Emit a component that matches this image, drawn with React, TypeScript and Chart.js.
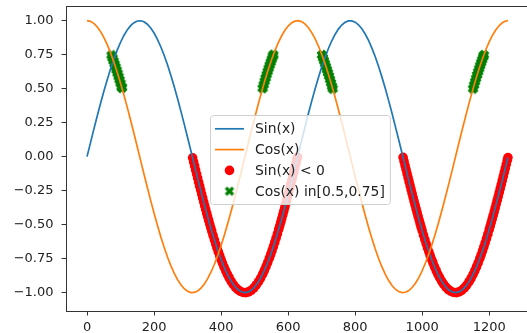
import React, { useEffect, useRef } from 'react';
import { Chart, registerables } from 'chart.js';

Chart.register(...registerables);

// x grid of the two curves
const xs = [
  0, 10, 20, 30, 40, 50, 60, 70, 80, 90,
  100, 110, 120, 130, 140, 150, 160, 170, 180, 190,
  200, 210, 220, 230, 240, 250, 260, 270, 280, 290,
  300, 310, 320, 330, 340, 350, 360, 370, 380, 390,
  400, 410, 420, 430, 440, 450, 460, 470, 480, 490,
  500, 510, 520, 530, 540, 550, 560, 570, 580, 590,
  600, 610, 620, 630, 640, 650, 660, 670, 680, 690,
  700, 710, 720, 730, 740, 750, 760, 770, 780, 790,
  800, 810, 820, 830, 840, 850, 860, 870, 880, 890,
  900, 910, 920, 930, 940, 950, 960, 970, 980, 990,
  1000, 1010, 1020, 1030, 1040, 1050, 1060, 1070, 1080, 1090,
  1100, 1110, 1120, 1130, 1140, 1150, 1160, 1170, 1180, 1190,
  1200, 1210, 1220, 1230, 1240, 1250, 1256,
];

const sinValues = [
  0, 0.0998, 0.1987, 0.2955, 0.3894, 0.4794, 0.5646, 0.6442, 0.7174, 0.7833,
  0.8415, 0.8912, 0.932, 0.9636, 0.9854, 0.9975, 0.9996, 0.9917, 0.9738, 0.9463,
  0.9093, 0.8632, 0.8085, 0.7457, 0.6755, 0.5985, 0.5155, 0.4274, 0.335, 0.2392,
  0.1411, 0.0416, -0.0584, -0.1577, -0.2555, -0.3508, -0.4425, -0.5298, -0.6119, -0.6878,
  -0.7568, -0.8183, -0.8716, -0.9162, -0.9516, -0.9775, -0.9937, -0.9999, -0.9962, -0.9825,
  -0.9589, -0.9258, -0.8835, -0.8323, -0.7728, -0.7055, -0.6313, -0.5507, -0.4646, -0.3739,
  -0.2794, -0.1822, -0.0831, 0.0168, 0.1165, 0.2151, 0.3115, 0.4048, 0.4941, 0.5784,
  0.657, 0.729, 0.7937, 0.8504, 0.8987, 0.938, 0.9679, 0.9882, 0.9985, 0.9989,
  0.9894, 0.9699, 0.9407, 0.9022, 0.8546, 0.7985, 0.7344, 0.663, 0.5849, 0.501,
  0.4121, 0.3191, 0.2229, 0.1245, 0.0248, -0.0752, -0.1743, -0.2718, -0.3665, -0.4575,
  -0.544, -0.6251, -0.6999, -0.7677, -0.8278, -0.8797, -0.9228, -0.9566, -0.9809, -0.9954,
  -1.0, -0.9946, -0.9792, -0.9541, -0.9193, -0.8755, -0.8228, -0.762, -0.6935, -0.6181,
  -0.5366, -0.4496, -0.3582, -0.2632, -0.1656, -0.0663, -0.0064,
];

const cosValues = [
  1, 0.995, 0.9801, 0.9553, 0.9211, 0.8776, 0.8253, 0.7648, 0.6967, 0.6216,
  0.5403, 0.4536, 0.3624, 0.2675, 0.17, 0.0707, -0.0292, -0.1288, -0.2272, -0.3233,
  -0.4161, -0.5048, -0.5885, -0.6663, -0.7374, -0.8011, -0.8569, -0.9041, -0.9422, -0.971,
  -0.99, -0.9991, -0.9983, -0.9875, -0.9668, -0.9365, -0.8968, -0.8481, -0.791, -0.7259,
  -0.6536, -0.5748, -0.4903, -0.4008, -0.3073, -0.2108, -0.1122, -0.0124, 0.0875, 0.1865,
  0.2837, 0.378, 0.4685, 0.5544, 0.6347, 0.7087, 0.7756, 0.8347, 0.8855, 0.9275,
  0.9602, 0.9833, 0.9965, 0.9999, 0.9932, 0.9766, 0.9502, 0.9144, 0.8694, 0.8157,
  0.7539, 0.6846, 0.6084, 0.5261, 0.4385, 0.3466, 0.2513, 0.1534, 0.054, -0.046,
  -0.1455, -0.2435, -0.3392, -0.4314, -0.5193, -0.602, -0.6787, -0.7486, -0.8111, -0.8654,
  -0.9111, -0.9477, -0.9748, -0.9922, -0.9997, -0.9972, -0.9847, -0.9624, -0.9304, -0.8892,
  -0.8391, -0.7806, -0.7143, -0.6408, -0.561, -0.4755, -0.3853, -0.2913, -0.1943, -0.0954,
  0.0044, 0.1042, 0.203, 0.2995, 0.3935, 0.4833, 0.5683, 0.6477, 0.7206, 0.7863,
  0.8439, 0.8931, 0.9333, 0.9644, 0.9861, 0.9978, 1.0,
];

// points where Sin(x) < 0
const redX = [
  315, 318, 321, 324, 327, 330, 333, 336, 339, 342, 345, 348, 351, 354, 357, 360, 363, 366, 369, 372,
  376, 380, 384, 388, 392, 396, 400, 404, 409, 414, 419, 424, 430, 436, 443, 450,
  458, 466, 474, 482, 490, 498, 505, 512, 518, 524, 529, 534, 539, 544,
  548, 552, 556, 560, 564, 568, 572, 575, 578, 581, 584, 587, 590, 593, 596, 599,
  602, 605, 608, 611, 614, 617, 620, 623, 626, 628,
  943, 946, 949, 952, 955, 958, 961, 964, 967, 970, 973, 976, 979, 982, 985, 988, 991, 994, 997, 1000,
  1004, 1008, 1012, 1016, 1020, 1024, 1028, 1032, 1037, 1042, 1047, 1052, 1058, 1064, 1071, 1078,
  1086, 1094, 1102, 1110, 1118, 1126, 1133, 1140, 1146, 1152, 1157, 1162, 1167, 1172,
  1176, 1180, 1184, 1188, 1192, 1196, 1200, 1203, 1206, 1209, 1212, 1215, 1218, 1221, 1224, 1227,
  1230, 1233, 1236, 1239, 1242, 1245, 1248, 1251, 1254, 1256,
];

const redY = [
  -0.0084, -0.0384, -0.0684, -0.0983, -0.1281, -0.1577, -0.1873, -0.2167, -0.2459, -0.2748,
  -0.3035, -0.332, -0.3601, -0.3879, -0.4153, -0.4425, -0.4692, -0.4955, -0.5213, -0.5467,
  -0.5797, -0.6119, -0.643, -0.6731, -0.7022, -0.7301, -0.7568, -0.7823, -0.8125, -0.8406,
  -0.8666, -0.8905, -0.9162, -0.9386, -0.9605, -0.9775,
  -0.9913, -0.9986, -0.9996, -0.9942, -0.9825, -0.9644, -0.9436, -0.9181, -0.8927, -0.864,
  -0.8378, -0.8094, -0.7791, -0.7468,
  -0.7196, -0.6912, -0.6618, -0.6313, -0.5998, -0.5673, -0.5339, -0.5083, -0.4822, -0.4557,
  -0.4288, -0.4015, -0.3739, -0.3459, -0.3176, -0.289,
  -0.2602, -0.2311, -0.2018, -0.1723, -0.1427, -0.1129, -0.0831, -0.0532, -0.0232, -0.0032,
  -0.0052, -0.0352, -0.0652, -0.0951, -0.1249, -0.1546, -0.1842, -0.2136, -0.2428, -0.2717,
  -0.3005, -0.329, -0.3571, -0.3849, -0.4124, -0.4396, -0.4664, -0.4927, -0.5186, -0.544,
  -0.5771, -0.6094, -0.6406, -0.6709, -0.7, -0.7279, -0.7547, -0.7803, -0.8106, -0.8389,
  -0.865, -0.889, -0.9149, -0.9375, -0.9596, -0.9768,
  -0.9909, -0.9984, -0.9997, -0.9945, -0.9831, -0.9652, -0.9446, -0.9194, -0.8941, -0.8656,
  -0.8396, -0.8113, -0.7811, -0.7489,
  -0.7218, -0.6935, -0.6642, -0.6338, -0.6024, -0.5699, -0.5366, -0.5111, -0.485, -0.4585,
  -0.4317, -0.4044, -0.3769, -0.3489, -0.3206, -0.2921,
  -0.2633, -0.2342, -0.2049, -0.1754, -0.1458, -0.1161, -0.0863, -0.0564, -0.0264, -0.0064,
];

// points where Cos(x) is in [0.5, 0.75]
const greenX = [
  73, 76, 79, 82, 85, 88, 91, 94, 97, 100, 103, 104,
  524, 527, 530, 533, 536, 539, 542, 545, 548, 551, 554, 556,
  701, 704, 707, 710, 713, 716, 719, 722, 725, 728, 731, 733,
  1152, 1155, 1158, 1161, 1164, 1167, 1170, 1173, 1176, 1179, 1182, 1184,
];

const greenY = [
  0.7452, 0.7248, 0.7039, 0.6822, 0.66, 0.6372, 0.6138, 0.5898, 0.5653, 0.5403, 0.5148, 0.5062,
  0.5035, 0.5292, 0.5544, 0.5791, 0.6033, 0.6269, 0.65, 0.6725, 0.6944, 0.7157, 0.7363, 0.7497,
  0.7473, 0.727, 0.7061, 0.6846, 0.6624, 0.6396, 0.6163, 0.5924, 0.5679, 0.543, 0.5176, 0.5003,
  0.5007, 0.5265, 0.5517, 0.5765, 0.6007, 0.6245, 0.6476, 0.6702, 0.6921, 0.7135, 0.7342, 0.7476,
];

const xTicks = [0, 200, 400, 600, 800, 1000, 1200];
const xTickLabels = ['0', '200', '400', '600', '800', '1000', '1200'];
const yTicks = [-1, -0.75, -0.5, -0.25, 0, 0.25, 0.5, 0.75, 1];
const yTickLabels = ['−1.00', '−0.75', '−0.50', '−0.25', '0.00', '0.25', '0.50', '0.75', '1.00'];

const seriesLabels = ['Sin(x)', 'Cos(x)', 'Sin(x) < 0', 'Cos(x) in[0.5,0.75]'];

const BLUE = '#1f77b4';
const ORANGE = '#ff7f0e';
const RED = '#ff0000';
const GREEN = '#008000';
const FONT = '"DejaVu Sans", sans-serif';
const TICK_FONT = 13;
const LEGEND_FONT = 13.9;
const LINE_W = 1.7;
const DOT_R = 4.8;

function makeXMarker(color: string, s: number, a: number): HTMLCanvasElement {
  const size = 12;
  const c = document.createElement('canvas');
  c.width = size;
  c.height = size;
  const g = c.getContext('2d')!;
  const b = 0.5;
  const pts = [
    [-a, -b], [a, -b], [a, -a], [b, -a], [b, a], [a, a],
    [a, b], [-a, b], [-a, a], [-b, a], [-b, -a], [-a, -a],
  ];
  g.translate(size / 2, size / 2);
  g.rotate(Math.PI / 4);
  g.beginPath();
  pts.forEach(([px, py], i) => {
    if (i === 0) g.moveTo(px * s, py * s);
    else g.lineTo(px * s, py * s);
  });
  g.closePath();
  g.fillStyle = color;
  g.fill();
  return c;
}

export default function App() {
  const ref = useRef<HTMLCanvasElement>(null);

  useEffect(() => {
    const canvas = ref.current!;
    const xMarker = makeXMarker(GREEN, 10.5, 0.24);
    const xLegendMarker = makeXMarker(GREEN, 10, 1 / 6);

    const framePlugin = {
      id: 'frame',
      afterDatasetsDraw(chart: any) {
        const { ctx, chartArea: a } = chart;
        ctx.save();
        ctx.strokeStyle = '#333';
        ctx.lineWidth = 1;
        ctx.strokeRect(Math.round(a.left) + 0.5, Math.round(a.top) + 0.5,
          Math.round(a.right - a.left), Math.round(a.bottom - a.top) - 0);
        ctx.restore();
      },
    };

    const legendPlugin = {
      id: 'mplLegend',
      afterDraw(chart: any) {
        const { ctx, chartArea: a } = chart;
        ctx.save();
        ctx.font = `${LEGEND_FONT}px ${FONT}`;
        const textW = Math.max(...seriesLabels.map((l) => ctx.measureText(l).width));
        const padL = 4.5;
        const handle = 29;
        const gap = 11;
        const padR = 5.5;
        const rowGap = 20.8;
        const padV = 13.3;
        const w = padL + handle + gap + textW + padR;
        const h = padV * 2 + rowGap * (seriesLabels.length - 1);
        const cx = (a.left + a.right) / 2 + 2;
        const cy = (a.top + a.bottom) / 2 + 1;
        const x0 = Math.round(cx - w / 2) + 0.5;
        const y0 = Math.round(cy - h / 2) + 0.5;
        const r = 3;
        ctx.beginPath();
        ctx.moveTo(x0 + r, y0);
        ctx.lineTo(x0 + w - r, y0);
        ctx.quadraticCurveTo(x0 + w, y0, x0 + w, y0 + r);
        ctx.lineTo(x0 + w, y0 + h - r);
        ctx.quadraticCurveTo(x0 + w, y0 + h, x0 + w - r, y0 + h);
        ctx.lineTo(x0 + r, y0 + h);
        ctx.quadraticCurveTo(x0, y0 + h, x0, y0 + h - r);
        ctx.lineTo(x0, y0 + r);
        ctx.quadraticCurveTo(x0, y0, x0 + r, y0);
        ctx.closePath();
        ctx.fillStyle = 'rgba(255,255,255,0.8)';
        ctx.fill();
        ctx.strokeStyle = '#d0d0d0';
        ctx.lineWidth = 1;
        ctx.stroke();

        seriesLabels.forEach((label, i) => {
          const yy = y0 + padV + i * rowGap;
          const hx0 = x0 + padL;
          const hcx = hx0 + handle / 2;
          if (i < 2) {
            ctx.strokeStyle = i === 0 ? BLUE : ORANGE;
            ctx.lineWidth = LINE_W;
            ctx.beginPath();
            ctx.moveTo(hx0, yy);
            ctx.lineTo(hx0 + handle, yy);
            ctx.stroke();
          } else if (i === 2) {
            ctx.fillStyle = RED;
            ctx.beginPath();
            ctx.arc(hcx, yy, DOT_R, 0, Math.PI * 2);
            ctx.fill();
          } else {
            ctx.drawImage(xLegendMarker, hcx - xLegendMarker.width / 2, yy - xLegendMarker.height / 2);
          }
          ctx.fillStyle = '#222';
          ctx.textBaseline = 'middle';
          ctx.textAlign = 'left';
          ctx.fillText(label, hx0 + handle + gap, yy + 1);
        });
        ctx.restore();
      },
    };

    const chart = new Chart(canvas, {
      type: 'line',
      data: {
        datasets: [
          {
            label: seriesLabels[0],
            data: xs.map((x, i) => ({ x, y: sinValues[i] })),
            borderColor: BLUE,
            borderWidth: LINE_W,
            pointRadius: 0,
            tension: 0,
            order: 1,
          },
          {
            label: seriesLabels[1],
            data: xs.map((x, i) => ({ x, y: cosValues[i] })),
            borderColor: ORANGE,
            borderWidth: LINE_W,
            pointRadius: 0,
            tension: 0,
            order: 0,
          },
          {
            label: seriesLabels[2],
            data: redX.map((x, i) => ({ x, y: redY[i] })),
            showLine: false,
            pointRadius: DOT_R,
            pointBackgroundColor: RED,
            pointBorderWidth: 0,
            pointBorderColor: RED,
            order: 2,
          },
          {
            label: seriesLabels[3],
            data: greenX.map((x, i) => ({ x, y: greenY[i] })),
            showLine: false,
            pointRadius: 4.5,
            pointStyle: xMarker,
            pointBackgroundColor: GREEN,
            pointBorderColor: GREEN,
            order: 3,
          },
        ],
      } as any,
      options: {
        animation: false,
        responsive: false,
        devicePixelRatio: 1,
        events: [],
        layout: { padding: { top: 6, right: 11, left: 0, bottom: 0 } },
        plugins: { legend: { display: false }, tooltip: { enabled: false } },
        scales: {
          x: {
            type: 'linear',
            min: -62.8,
            max: 1318.8,
            afterBuildTicks: (s: any) => { s.ticks = xTicks.map((v) => ({ value: v })); },
            afterFit: (s: any) => { s.height = 22; s.paddingLeft = 0; s.paddingRight = 0; s.paddingTop = 0; s.paddingBottom = 0; },
            grid: { drawOnChartArea: false, drawTicks: true, tickLength: 4.5, color: '#333', tickColor: '#333', lineWidth: 1 },
            border: { display: false },
            ticks: {
              callback: (_v: any, i: number) => xTickLabels[i],
              font: { family: FONT, size: TICK_FONT },
              color: '#222',
              padding: 4,
              maxRotation: 0,
              autoSkip: false,
            },
          },
          y: {
            type: 'linear',
            min: -1.135,
            max: 1.108,
            afterBuildTicks: (s: any) => { s.ticks = yTicks.map((v) => ({ value: v })); },
            afterFit: (s: any) => { s.width = 66; s.paddingLeft = 0; s.paddingRight = 0; s.paddingTop = 0; s.paddingBottom = 0; },
            grid: { drawOnChartArea: false, drawTicks: true, tickLength: 4.5, color: '#333', tickColor: '#333', lineWidth: 1 },
            border: { display: false },
            ticks: {
              callback: (_v: any, i: number) => yTickLabels[i],
              font: { family: FONT, size: TICK_FONT },
              color: '#222',
              padding: 8,
              autoSkip: false,
            },
          },
        },
      } as any,
      plugins: [framePlugin, legendPlugin],
    });

    return () => chart.destroy();
  }, []);

  return (
    <div style={{ position: 'fixed', left: 0, top: 0, width: 527, height: 333, overflow: 'hidden', background: '#fff' }}>
      <canvas ref={ref} width={540} height={333} style={{ display: 'block', width: 540, height: 333 }} />
    </div>
  );
}
